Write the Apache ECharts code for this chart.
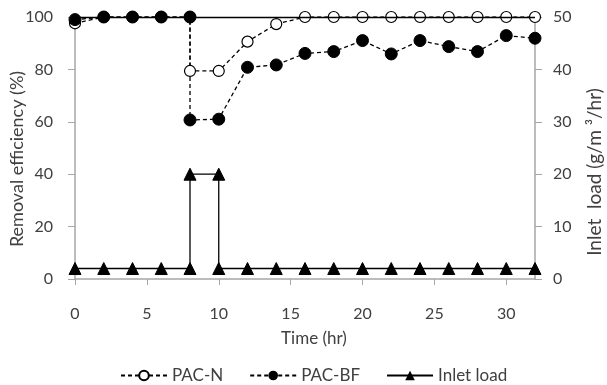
<!DOCTYPE html>
<html>
<head>
<meta charset="utf-8">
<script src="https://cdn.jsdelivr.net/npm/echarts@6/dist/echarts.min.js"></script>
<style>html,body{margin:0;padding:0;background:#fff}#c{width:607px;height:385px}</style>
</head>
<body>
<div id="c"></div>
<script>
const timePacN = [0,2,4,6,8,8,10,12,14,16,18,20,22,24,26,28,30,32];
const pacN     = [97.6,100,100,100,100,79.4,79.4,90.6,97.3,100,100,100,100,100,100,100,100,100];
const timePacBF = [0,2,4,6,8,8,10,12,14,16,18,20,22,24,26,28,30,32];
const pacBF     = [99,100,100,100,100,60.7,61,80.8,81.7,86.1,86.8,91,85.9,91,88.7,86.8,92.9,91.9];
const timeInlet = [0,2,4,6,8,8,10,10,12,14,16,18,20,22,24,26,28,30,32];
const inletLoad = [2,2,2,2,2,20,20,2,2,2,2,2,2,2,2,2,2,2,2];
const leftTitle = 'Removal efficiency (%)';
const rightTitle = 'Inlet  load (g/m ³/hr)';

const zip = (xs, ys) => xs.map((x, i) => [x, ys[i]]);
const font = 'Lato, "Open Sans", sans-serif';
const txt = '#404040';
const axisGray = '#a6a6a6';

const chart = echarts.init(document.getElementById('c'));
chart.setOption({
  animation: false,
  grid: {left: 75, right: 72, top: 17, bottom: 106, outerBoundsMode: 'none', containLabel: false},
  graphic: [{
    type: 'text', x: 17, y: 159, rotation: Math.PI / 2, silent: true,
    style: {text: leftTitle, font: '18px ' + font, fill: txt, textAlign: 'center', textVerticalAlign: 'middle'}
  }, {
    type: 'text', x: 595, y: 172, rotation: Math.PI / 2, silent: true,
    style: {text: rightTitle, font: '19px ' + font, fill: txt, textAlign: 'center', textVerticalAlign: 'middle'}
  }],
  legend: {
    top: 362, left: 115, itemWidth: 46, itemHeight: 12, itemGap: 26,
    textStyle: {fontFamily: font, fontSize: 17, color: txt},
    data: ['PAC-N', 'PAC-BF', 'Inlet load']
  },
  xAxis: {
    type: 'value', min: 0, max: 32, interval: 5,
    name: 'Time (hr)', nameLocation: 'middle', nameGap: 51,
    nameTextStyle: {fontFamily: font, fontSize: 17, color: txt, padding: [0, 0, 0, 18]},
    axisLine: {show: true, onZero: false, lineStyle: {color: axisGray, width: 1.5}},
    axisTick: {show: true, length: 6, lineStyle: {color: axisGray}},
    axisLabel: {fontFamily: font, fontSize: 16, color: txt, margin: 27, showMaxLabel: false},
    splitLine: {show: false}
  },
  yAxis: [{
    type: 'value', min: 0, max: 100, interval: 20,
    axisLine: {show: true, lineStyle: {color: axisGray, width: 1.5}},
    axisTick: {show: true, length: 7, lineStyle: {color: axisGray}},
    axisLabel: {fontFamily: font, fontSize: 16, color: txt, margin: 22},
    splitLine: {show: false}
  }, {
    type: 'value', min: 0, max: 50, interval: 10, position: 'right',
    axisLine: {show: true, lineStyle: {color: axisGray, width: 1.5}},
    axisTick: {show: true, length: 7, lineStyle: {color: axisGray}},
    axisLabel: {fontFamily: font, fontSize: 16, color: txt, margin: 18},
    splitLine: {show: false}
  }],
  series: [{
    name: 'Inlet load', type: 'line', yAxisIndex: 1,
    data: zip(timeInlet, inletLoad),
    symbol: 'triangle', symbolSize: 12,
    lineStyle: {color: '#000', width: 1.3},
    itemStyle: {color: '#000', borderColor: '#000'}
  }, {
    name: 'PAC-N', type: 'line', yAxisIndex: 0,
    data: zip(timePacN, pacN),
    symbol: 'circle', symbolSize: 11,
    lineStyle: {color: '#000', width: 1.3, type: [4, 3]},
    itemStyle: {color: '#fff', borderColor: '#000', borderWidth: 1.2},
    markLine: {
      silent: true, symbol: 'none', label: {show: false},
      lineStyle: {color: '#000', width: 1.3, type: 'solid'},
      data: [{yAxis: 100}]
    }
  }, {
    name: 'PAC-BF', type: 'line', yAxisIndex: 0,
    data: zip(timePacBF, pacBF),
    symbol: 'circle', symbolSize: 12,
    lineStyle: {color: '#000', width: 1.3, type: [4, 3]},
    itemStyle: {color: '#000', borderColor: '#000'}
  }]
});
</script>
</body>
</html>
